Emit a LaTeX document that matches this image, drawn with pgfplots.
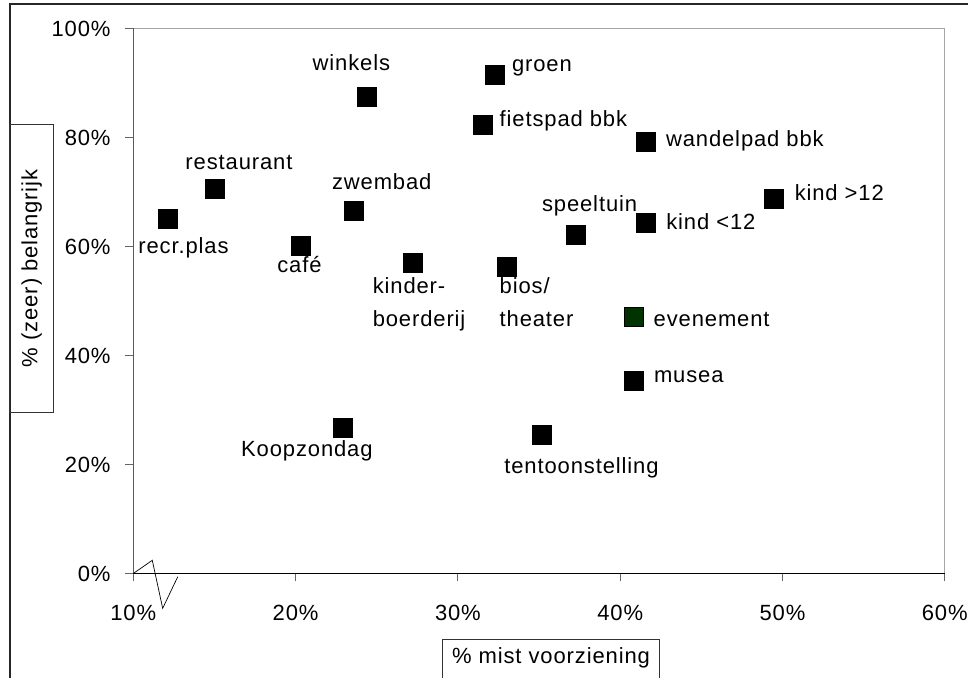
\documentclass[border=0pt]{standalone}
\usepackage{fontspec}
\setmainfont{Liberation Sans}[LetterSpace=4]
\usepackage{pgfplots}
\pgfplotsset{compat=1.18}
\usepackage{pgfplotstable}
\definecolor{evgreen}{RGB}{0,51,0}
\pgfplotstableread{
x y
12.16 65.0
15.0 70.5
20.3 60.1
23.6 66.5
24.4 87.4
22.9 26.8
27.2 56.9
31.53 82.3
32.29 91.5
33.0 56.2
35.2 25.4
37.3 62.1
41.6 64.3
41.6 79.2
40.87 35.3
49.5 68.7
}\blackpts
\pgfplotstableread{
x y
40.87 47.0
}\greenpts
\begin{document}
\fontsize{11}{13}\selectfont
\begin{tikzpicture}[font=\fontsize{11}{13}\selectfont]
\begin{axis}[
  at={(0,0)}, anchor=origin,
  x=8.115pt, y=2.725pt,
  xmin=10, xmax=60, ymin=0, ymax=100,
  clip=false,
  axis line style={draw=none},
  tick pos=left, tick align=outside,
  major tick length=4pt,
  tick style={black!60, line width=0.5pt},
  xtick={10,20,30,40,50,60},
  xticklabels={10\%,20\%,30\%,40\%,50\%,60\%},
  ytick={0,20,40,60,80,100},
  yticklabels={0\%,20\%,40\%,60\%,80\%,100\%},
  xticklabel style={font=\fontsize{11}{13}\selectfont, yshift=-8pt},
  yticklabel style={font=\fontsize{11}{13}\selectfont, xshift=-3.5pt},
]
\draw[black!35, line width=0.5pt] (rel axis cs:0,1) -- (rel axis cs:1,1) -- (rel axis cs:1,0);
\draw[black!65, line width=0.6pt] (rel axis cs:0,0) -- (rel axis cs:0,1);
\draw[black, line width=0.6pt] (rel axis cs:0,0) -- (rel axis cs:1,0);
\draw[black, line width=0.35pt] (axis cs:10,0) -- (axis cs:11.17,2.42) -- (axis cs:11.81,-6.39) -- (axis cs:12.74,-0.59);
\addplot[only marks, mark=square*, mark size=4.75pt, mark options={fill=black, draw=none}] table[x=x,y=y] {\blackpts};
\addplot[only marks, mark=square*, mark size=4.75pt, mark options={fill=evgreen, draw=none}] table[x=x,y=y] {\greenpts};
\begin{scope}[every node/.style={inner sep=0pt, anchor=base west}]
\node at (axis cs:21.03,92.20) {winkels};
\node at (axis cs:13.19,74.17) {restaurant};
\node at (axis cs:10.29,58.75) {recr.plas};
\node at (axis cs:18.85,55.19) {café};
\node at (axis cs:22.22,70.50) {zwembad};
\node at (axis cs:35.16,66.51) {speeltuin};
\node at (axis cs:42.82,63.03) {kind <12};
\node at (axis cs:24.73,51.41) {kinder-};
\node at (axis cs:24.73,45.28) {boerderij};
\node at (axis cs:32.55,51.41) {bios/};
\node at (axis cs:32.55,45.28) {theater};
\node at (axis cs:42.04,45.40) {evenement};
\node at (axis cs:42.06,35.01) {musea};
\node at (axis cs:32.84,18.26) {tentoonstelling};
\node at (axis cs:16.62,21.43) {Koopzondag};
\node at (axis cs:42.80,78.31) {wandelpad bbk};
\node at (axis cs:50.73,68.35) {kind >12};
\node at (axis cs:33.31,92.07) {groen};
\node at (axis cs:32.55,81.98) {fietspad bbk};
\end{scope}
\end{axis}
% outer frame
\draw[black!85, line width=0.8pt] (-61.65pt,-53pt) -- (-61.65pt,284.75pt) -- (418pt,284.75pt);
% y label box
\draw[black!80, line width=0.5pt] (-61.65pt,80.6pt) rectangle (-40.0pt,224.6pt);
\node[rotate=90, inner sep=0pt] at (-50.8pt,152.6pt) {\% (zeer) belangrijk};
% x label box
\draw[black!80, line width=0.5pt] (154.7pt,-53pt) -- (154.7pt,-32.9pt) -- (263.0pt,-32.9pt) -- (263.0pt,-53pt);
\node[inner sep=0pt, anchor=base] at (208.85pt,-44.9pt) {\% mist voorziening};
\pgfresetboundingbox
\path[use as bounding box] (-66.65pt,-52.25pt) rectangle (417.35pt,286.75pt);
\end{tikzpicture}
\end{document}
